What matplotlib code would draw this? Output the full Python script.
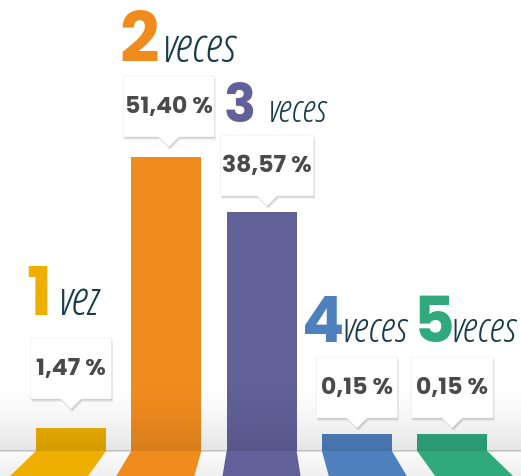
import numpy as np
import matplotlib.pyplot as plt
from matplotlib.patches import Polygon
from matplotlib import font_manager

# datos
veces = ['1', '2', '3', '4', '5']
palabra = ['vez', 'veces', 'veces', 'veces', 'veces']
porcentaje = [1.47, 51.40, 38.57, 0.15, 0.15]
# altura visible de cada barra en el gráfico original (no es proporcional)
altura = [23, 294, 239, 17, 17]

colores = ['#EEAF00', '#F08C1E', '#626099', '#4F80BE', '#30A97F']

# maquetación (px)
centro = 71 + 95.3 * np.arange(5)
ancho = 70
hueco_pico = [19, 10, 6, 6, 6]
caja_w = [81, 91, 93, 81, 82]
caja_dx = [0, 2.5, 5.5, 0, 0]
txt_x = [26, 119, 224, 302, 414]
pal_x = [58, 162, 268, 341, 450]
hueco_etq = [23, 14, 13, 15, 15]
tam_num = [48, 50, 38, 45, 45]
tam_pal = [34, 34, 27, 30, 30]

fig = plt.figure(figsize=(5.21, 4.76), dpi=100)
ax = fig.add_axes([0, 0, 1, 1])
ax.set_xlim(0, 521)
ax.set_ylim(-25, 451)
ax.axis('off')

# fondo: suelo y sombra degradada sobre la línea base
suelo = np.linspace(0.985, 0.94, 50).reshape(-1, 1)
ax.imshow(np.dstack([suelo] * 3), extent=(0, 521, -25, 0), aspect='auto', zorder=0)
ax.axhline(0, color='#d2d2d2', lw=1.2, zorder=1)

x = centro
ax.bar(x, altura, width=ancho, color=colores, zorder=2)

# "suelo" en perspectiva de cada barra
for xi, c in zip(x, colores):
    x0, x1 = xi - ancho / 2, xi + ancho / 2
    f = 0.115
    pts = [(x0, 0), (x1, 0), (x1 + (x1 - 262) * f, -25), (x0 + (x0 - 262) * f, -25)]
    ax.add_patch(Polygon(pts, closed=True, color=c, lw=0, zorder=2))

# sombra gris sobre la zona inferior
a = np.linspace(0, 1, 100) ** 1.6 * 0.105
rgba = np.zeros((100, 1, 4))
rgba[:, 0, 3] = a
ax.imshow(rgba, extent=(0, 521, 0, 75), aspect='auto', zorder=3)

f_pct = font_manager.FontProperties(family=['Poppins', 'DejaVu Sans'], weight=700, size=17)
f_num = font_manager.FontProperties(family=['Poppins', 'DejaVu Sans'], weight=700)
f_pal = font_manager.FontProperties(family=['Open Sans', 'DejaVu Sans'], weight=300,
                                    style='italic', stretch='condensed')

for i in range(5):
    cx = x[i] + caja_dx[i]
    tip = altura[i] + hueco_pico[i]
    base = tip + 10
    w = caja_w[i]
    h = 61
    pts = [(cx - w / 2, base), (cx - 10, base), (cx, tip), (cx + 10, base),
           (cx + w / 2, base), (cx + w / 2, base + h), (cx - w / 2, base + h)]
    for k, al in [(3.0, 0.05), (2.0, 0.08), (1.0, 0.12)]:
        sh = [(px + k * 0.5, py - k) for px, py in pts]
        ax.add_patch(Polygon(sh, closed=True, color='black', alpha=al, lw=0, zorder=4))
    ax.add_patch(Polygon(pts, closed=True, facecolor='white', edgecolor='#eeeeee',
                         lw=0.5, zorder=5))
    etq = f"{porcentaje[i]:.2f}".replace('.', ',') + ' %'
    ax.text(cx, base + h / 2 - 1, etq, ha='center', va='center',
            color='#4a4a4a', fontproperties=f_pct, zorder=6)

    y_lbl = base + h + hueco_etq[i]
    ax.text(txt_x[i], y_lbl, veces[i], ha='left', va='baseline', color=colores[i],
            fontproperties=f_num, fontsize=tam_num[i], zorder=6)
    ax.text(pal_x[i], y_lbl, palabra[i], ha='left', va='baseline', color='#173a4d',
            fontproperties=f_pal, fontsize=tam_pal[i], zorder=6)

fig.savefig('out.png', dpi=100)
